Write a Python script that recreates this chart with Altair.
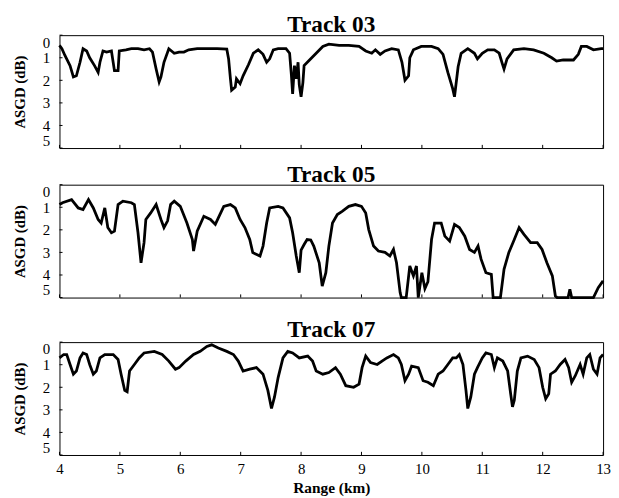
import altair as alt
import pandas as pd

tick_values = [4, 5, 6, 7, 8, 9, 10, 11, 12, 13]
y_ticks = [0, 1, 2, 3, 4, 5]
titles = ["Track 03", "Track 05", "Track 07"]

track03 = [(4.0,0.45),(4.04,0.6),(4.09,0.9),(4.175,1.35),(4.23,1.85),(4.28,1.8),(4.34,1.2),(4.39,0.6),
           (4.45,0.7),(4.5,1.0),(4.58,1.35),(4.64,1.65),(4.67,1.2),(4.72,0.7),(4.78,0.75),(4.86,0.7),
           (4.88,1.05),(4.91,1.57),(4.97,1.57),(4.99,0.7),(5.1,0.65),(5.19,0.6),(5.3,0.6),(5.4,0.65),
           (5.49,0.6),(5.54,0.75),(5.6,1.5),(5.65,2.07),(5.68,1.85),(5.73,1.2),(5.81,0.6),(5.9,0.8),
           (5.98,0.75),(6.06,0.75),(6.14,0.65),(6.28,0.6),(6.44,0.6),(6.61,0.6),(6.77,0.62),(6.80,1.05),
           (6.83,1.93),(6.85,2.44),(6.91,2.3),(6.93,1.93),(6.99,2.15),(7.04,1.8),(7.13,1.3),(7.21,0.8),
           (7.29,0.65),(7.37,0.85),(7.43,1.2),(7.48,1.05),(7.54,0.65),(7.62,0.6),(7.75,0.6),(7.81,0.8),
           (7.84,1.78),(7.86,2.6),(7.89,1.35),(7.92,1.93),(7.95,1.2),(7.97,2.2),(8.0,2.73),(8.03,2.1),
           (8.05,1.35),(8.14,1.1),(8.25,0.8),(8.36,0.5),(8.46,0.4),(8.63,0.45),(8.79,0.45),(8.96,0.5),
           (9.07,0.7),(9.17,0.8),(9.23,0.65),(9.31,0.85),(9.39,0.7),(9.5,0.6),(9.61,0.65),(9.67,1.2),
           (9.72,2.0),(9.78,1.8),(9.8,1.0),(9.86,0.65),(9.99,0.5),(10.16,0.5),(10.27,0.6),(10.35,0.85),
           (10.43,1.65),(10.51,2.37),(10.54,2.73),(10.6,1.4),(10.65,0.8),(10.76,0.6),(10.87,0.8),
           (10.92,1.05),(11.0,0.8),(11.09,0.65),(11.2,0.65),(11.28,0.8),(11.33,1.25),(11.36,1.5),
           (11.41,1.05),(11.52,0.65),(11.69,0.6),(11.85,0.65),(12.02,0.8),(12.15,1.0),(12.23,1.15),
           (12.34,1.1),(12.51,1.1),(12.59,0.85),(12.64,0.5),(12.73,0.5),(12.84,0.65),(12.97,0.6),(13.0,0.6)]

track05 = [(4.0,0.88),(4.05,0.8),(4.2,0.66),(4.31,1.03),(4.39,1.1),(4.48,0.66),(4.56,1.03),(4.64,1.54),
           (4.69,1.7),(4.75,1.03),(4.8,1.9),(4.86,2.13),(4.91,2.06),(4.97,0.88),(5.05,0.73),(5.19,0.8),
           (5.24,0.88),(5.3,2.13),(5.35,3.46),(5.4,2.57),(5.43,1.54),(5.51,1.25),(5.6,0.88),(5.68,1.54),
           (5.73,1.9),(5.79,1.6),(5.84,0.88),(5.9,0.73),(6.0,0.96),(6.11,1.7),(6.2,2.43),(6.22,2.94),
           (6.28,2.06),(6.39,1.4),(6.5,1.54),(6.58,1.76),(6.63,1.47),(6.72,0.96),(6.83,0.88),(6.91,1.03),
           (6.99,1.54),(7.07,1.9),(7.15,2.43),(7.2,3.01),(7.32,3.16),(7.37,2.72),(7.43,1.7),(7.48,1.03),
           (7.62,0.96),(7.7,1.03),(7.81,1.47),(7.86,2.13),(7.92,3.16),(7.97,3.9),(8.0,2.9),(8.05,2.65),
           (8.1,2.43),(8.16,2.45),(8.21,2.72),(8.3,3.46),(8.35,4.49),(8.41,3.9),(8.46,2.72),(8.52,1.7),
           (8.6,1.32),(8.68,1.18),(8.79,0.96),(8.9,0.88),(9.0,0.96),(9.07,1.25),(9.12,1.99),(9.2,2.72),
           (9.28,2.94),(9.39,3.0),(9.47,3.16),(9.53,2.87),(9.58,3.46),(9.64,4.78),(9.66,5.0),(9.74,5.0),
           (9.8,3.6),(9.86,4.04),(9.91,3.6),(9.94,5.0),(10.0,3.9),(10.05,4.6),(10.1,4.3),(10.16,2.43),
           (10.21,1.7),(10.32,1.7),(10.38,2.28),(10.46,2.5),(10.54,1.76),(10.62,1.9),(10.71,2.28),
           (10.79,2.87),(10.87,3.0),(10.93,2.72),(10.98,3.3),(11.06,3.9),(11.15,3.97),(11.18,5.0),
           (11.3,5.0),(11.36,3.75),(11.44,3.0),(11.53,2.43),(11.61,1.9),(11.69,2.2),(11.8,2.57),
           (11.91,2.57),(11.99,2.87),(12.07,3.46),(12.16,4.04),(12.21,4.93),(12.24,5.0),(12.42,5.0),
           (12.45,4.63),(12.48,5.0),(12.84,5.0),(12.92,4.56),(13.0,4.26)]

track07 = [(4.0,0.7),(4.07,0.55),(4.12,0.55),(4.175,0.99),(4.23,1.42),(4.28,1.28),(4.34,0.7),(4.39,0.48),
           (4.45,0.55),(4.5,0.99),(4.56,1.42),(4.61,1.28),(4.67,0.7),(4.75,0.55),(4.89,0.55),(4.97,0.77),
           (5.02,1.42),(5.08,2.14),(5.12,2.2),(5.16,1.28),(5.24,0.99),(5.32,0.7),(5.4,0.48),(5.57,0.41),
           (5.7,0.55),(5.81,0.84),(5.92,1.2),(5.98,1.13),(6.09,0.84),(6.22,0.55),(6.33,0.41),(6.44,0.19),
           (6.52,0.12),(6.63,0.26),(6.77,0.41),(6.88,0.55),(6.96,0.84),(7.04,1.28),(7.15,1.2),(7.26,1.13),
           (7.37,1.42),(7.45,2.14),(7.51,2.94),(7.56,2.43),(7.62,1.57),(7.7,0.7),(7.78,0.41),(7.86,0.48),
           (7.97,0.7),(8.11,0.62),(8.19,0.84),(8.25,1.28),(8.36,1.42),(8.46,1.35),(8.57,1.13),(8.65,1.42),
           (8.74,1.93),(8.87,2.0),(8.96,1.86),(9.01,1.13),(9.07,0.62),(9.15,0.91),(9.26,0.99),(9.34,0.84),
           (9.42,0.7),(9.53,0.55),(9.61,0.7),(9.66,0.99),(9.72,1.71),(9.78,1.42),(9.83,1.06),(9.94,1.13),
           (10.02,1.71),(10.1,1.78),(10.19,1.93),(10.27,1.42),(10.35,1.28),(10.43,0.99),(10.51,0.7),
           (10.57,0.7),(10.62,0.55),(10.68,0.99),(10.73,2.14),(10.76,2.94),(10.81,2.43),(10.87,1.42),
           (10.92,1.13),(11.0,0.7),(11.06,0.48),(11.15,0.55),(11.2,1.13),(11.25,0.7),(11.34,0.84),
           (11.42,1.28),(11.47,2.29),(11.5,2.87),(11.53,2.58),(11.58,1.28),(11.64,0.7),(11.75,0.62),
           (11.86,0.77),(11.94,1.13),(12.0,2.0),(12.05,2.51),(12.1,2.29),(12.13,1.42),(12.21,1.28),
           (12.29,0.99),(12.37,0.77),(12.43,1.13),(12.48,1.78),(12.54,1.49),(12.62,0.99),(12.67,1.42),
           (12.73,0.7),(12.78,0.55),(12.84,1.2),(12.9,1.42),(12.95,0.7),(13.0,0.55)]

SERIF = "Liberation Serif"

xticks_df = pd.DataFrame({"km": tick_values, "db": [5] * len(tick_values), "db2": [4.86] * len(tick_values)})
yticks_df = pd.DataFrame({"db": y_ticks, "km": [4] * len(y_ticks), "km2": [4.05] * len(y_ticks)})


def panel(data, title, bottom):
    df = pd.DataFrame(data, columns=["km", "db"])
    if bottom:
        xaxis = alt.Axis(
            values=tick_values, title="Range (km)", ticks=False, domain=False, grid=False,
            labelFont=SERIF, labelFontSize=15, labelColor="black", labelPadding=7,
            labelFlush=False, labelOverlap=False,
            titleFont=SERIF, titleFontSize=15.5, titleFontWeight="bold", titleColor="black",
            titlePadding=4,
        )
    else:
        xaxis = None
    yaxis = alt.Axis(
        values=y_ticks, title="ASGD (dB)", ticks=False, domain=False, grid=False,
        labelFont=SERIF, labelFontSize=15, labelColor="black", labelPadding=10,
        labelFlush=3, labelOverlap=False, titleFont=SERIF, titleFontSize=15,
        titleFontWeight="bold", titleColor="black", titlePadding=15,
    )
    xscale = alt.Scale(domain=[4, 13], nice=False, zero=False)
    yscale = alt.Scale(domain=[0, 5], reverse=True, nice=False, zero=False)

    line = alt.Chart(df).mark_line(color="black", strokeWidth=2.8).encode(
        x=alt.X("km:Q", scale=xscale, axis=xaxis),
        y=alt.Y("db:Q", scale=yscale, axis=yaxis),
    )
    xt = alt.Chart(xticks_df).mark_rule(color="black", strokeWidth=1).encode(
        x=alt.X("km:Q", scale=xscale, axis=xaxis),
        y=alt.Y("db:Q", scale=yscale, axis=yaxis),
        y2="db2:Q",
    )
    yt = alt.Chart(yticks_df).mark_rule(color="black", strokeWidth=1).encode(
        x=alt.X("km:Q", scale=xscale, axis=xaxis),
        x2="km2:Q",
        y=alt.Y("db:Q", scale=yscale, axis=yaxis),
    )
    return alt.layer(line, xt, yt, title=alt.Title(
        title, font=SERIF, fontSize=23.5, fontWeight="bold", color="black",
        anchor="middle", offset=-2,
    )).properties(width=549, height=114)


chart = alt.vconcat(
    panel(track03, titles[0], False),
    panel(track05, titles[1], False),
    panel(track07, titles[2], True),
    spacing=13,
).configure_view(stroke="black", strokeWidth=1).properties(
    background="white", padding={"left": 4, "top": 2, "right": 0, "bottom": 0}
)

chart.save("out.html", embed_options={"renderer": "svg", "actions": False})
